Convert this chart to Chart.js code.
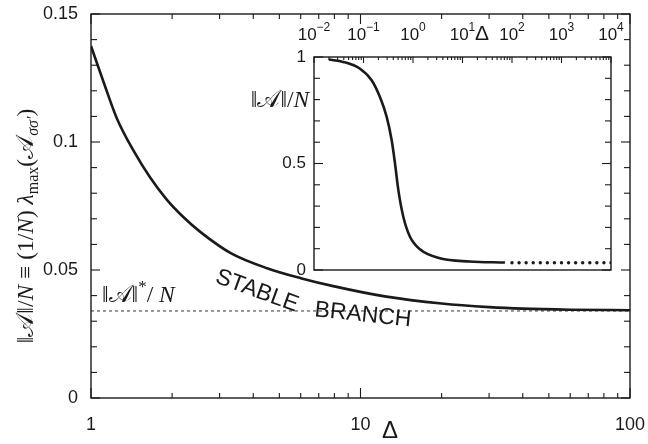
<!DOCTYPE html>
<html>
<head>
<meta charset="utf-8">
<script src="https://cdn.jsdelivr.net/npm/chart.js@4.4.1/dist/chart.umd.min.js"></script>
<style>
  body { margin: 0; background: #fff; }
  #wrap { position: relative; width: 648px; height: 444px; }
  #wrap canvas { position: absolute; left: 0; top: 0; }
</style>
</head>
<body>
<div id="wrap">
  <canvas id="main" width="648" height="444"></canvas>
  <canvas id="inset" width="648" height="444"></canvas>
</div>
<script>
// main panel - stable branch, Delta from 1 to 100
const deltaMain = [1, 1.13, 1.25, 1.44, 1.66, 1.91, 2.2, 2.55, 3.3, 4.5, 6, 8, 12.3, 20, 30, 40, 60, 100];
const normMain = [0.1375, 0.1215, 0.109, 0.0965, 0.086, 0.0775, 0.0707, 0.0648, 0.0566, 0.0507, 0.0468, 0.0436, 0.0397, 0.0369, 0.0355, 0.0349, 0.0345, 0.0343];
const normStar = 0.034;
const starRange = [1, 100];

// inset - whole range of Delta
const deltaInset = [0.02, 0.039, 0.085, 0.146, 0.215, 0.294, 0.371, 0.433, 0.506, 0.637, 0.869, 1.38, 3.5, 14, 72];
const normInset = [0.988, 0.977, 0.945, 0.891, 0.812, 0.719, 0.609, 0.5, 0.375, 0.25, 0.156, 0.097, 0.055, 0.04, 0.035];
const deltaTail = [100, 139, 193, 268, 373, 518, 720, 1000, 1390, 1930, 2680, 3730, 5180, 7200, 10000];
const normTail = [0.034, 0.034, 0.034, 0.034, 0.034, 0.034, 0.034, 0.034, 0.034, 0.034, 0.034, 0.034, 0.034, 0.034, 0.034];

// tick labels
const mainYTicks = [0, 0.05, 0.1, 0.15];
const mainYLabels = ['0', '0.05', '0.1', '0.15'];
const mainXTicks = [1, 10, 100];
const mainXLabels = ['1', '10', '100'];
const insetYTicks = [0, 0.5, 1];
const insetYLabels = ['0', '0.5', '1'];
const insetXTicks = [0.01, 0.1, 1, 10, 100, 1000, 10000];
const insetXExps = ['\u22122', '\u22121', '0', '1', '2', '3', '4'];

const SANS = '"Liberation Sans", Arial, sans-serif';
const SERIF = '"Liberation Serif", "DejaVu Serif", serif';
const INK = '#1a1a1a';

function pts(xs, ys) {
  return xs.map((x, i) => ({ x: x, y: ys[i] }));
}

function line(ctx, x1, y1, x2, y2) {
  ctx.beginPath();
  ctx.moveTo(x1, y1);
  ctx.lineTo(x2, y2);
  ctx.stroke();
}

// 1..9 times each decade between min and max
function logTicks(min, max) {
  let out = [];
  for (let e = Math.round(Math.log10(min)); e < Math.log10(max); e++) {
    for (let m = 1; m < 10; m++) {
      out.push({ v: m * Math.pow(10, e), major: m === 1 });
    }
  }
  out.push({ v: max, major: true });
  return out;
}

// text made of pieces with their own font and vertical shift
function drawRich(ctx, segs, x, y, align) {
  let w = 0;
  segs.forEach(s => { ctx.font = s[1]; w += ctx.measureText(s[0]).width; });
  let cx = align === 'center' ? x - w / 2 : x;
  segs.forEach(s => {
    ctx.font = s[1];
    ctx.fillText(s[0], cx, y + (s[2] || 0));
    cx += ctx.measureText(s[0]).width;
  });
}

const rm = '23.5px ' + SERIF;
const it = 'italic 23.5px ' + SERIF;
const sub = '16px ' + SERIF;
const subIt = 'italic 16px ' + SERIF;

const mainDecor = {
  id: 'mainDecor',
  beforeDraw(chart) {
    const ctx = chart.ctx;
    ctx.save();
    ctx.fillStyle = '#fff';
    ctx.fillRect(0, 0, chart.width, chart.height);
    ctx.restore();
  },
  afterDraw(chart) {
    const { ctx, chartArea: a, scales: { x, y } } = chart;
    ctx.save();
    ctx.strokeStyle = INK;
    ctx.fillStyle = INK;
    ctx.lineWidth = 1.4;
    ctx.strokeRect(a.left, a.top, a.right - a.left, a.bottom - a.top);

    ctx.lineWidth = 1.1;
    for (let i = 0; i <= 15; i++) {
      const py = y.getPixelForValue(i / 100);
      const len = i % 5 === 0 ? 9 : 6;
      line(ctx, a.left, py, a.left + len, py);
      line(ctx, a.right, py, a.right - len, py);
    }
    logTicks(1, 100).forEach(t => {
      const px = x.getPixelForValue(t.v);
      const len = t.major ? 10 : 5;
      line(ctx, px, a.bottom, px, a.bottom - len);
      line(ctx, px, a.top, px, a.top + len);
    });

    // tick labels
    ctx.font = '18px ' + SANS;
    ctx.textAlign = 'right';
    ctx.textBaseline = 'middle';
    mainYTicks.forEach((v, i) => ctx.fillText(mainYLabels[i], a.left - 13, y.getPixelForValue(v)));
    ctx.textAlign = 'center';
    mainXTicks.forEach((v, i) => ctx.fillText(mainXLabels[i], x.getPixelForValue(v), a.bottom + 27));

    ctx.font = '24px ' + SANS;
    ctx.fillText('\u0394', 390, 431);

    // y axis title
    ctx.textAlign = 'left';
    ctx.textBaseline = 'alphabetic';
    ctx.save();
    ctx.translate(25, 226);
    ctx.rotate(-Math.PI / 2);
    drawRich(ctx, [
      ['\u2016', rm], ['\uD835\uDC9C', rm], ['\u2016/', rm], ['N', it],
      [' \u2261 (1/', rm], ['N', it], [') ', rm], ['\u03BB', it],
      ['max', sub, 5], ['(', rm], ['\uD835\uDC9C', rm], ['\u03C3\u03C3\u2032', subIt, 5], [')', rm]
    ], 0, 8, 'center');
    ctx.restore();

    // threshold label
    drawRich(ctx, [['\u2016', rm], ['\uD835\uDC9C', rm], ['\u2016', rm], ['*', '17px ' + SERIF, -10], ['/', rm], [' N', it]], 102, 302, 'left');

    // branch label
    ctx.font = '23px ' + SANS;
    ctx.textAlign = 'center';
    ctx.textBaseline = 'middle';
    ctx.save();
    ctx.translate(257, 291);
    ctx.rotate(20 * Math.PI / 180);
    ctx.fillText('STABLE', 0, 0);
    ctx.restore();
    ctx.save();
    ctx.translate(363, 315);
    ctx.rotate(6 * Math.PI / 180);
    ctx.fillText('BRANCH', 0, 0);
    ctx.restore();
    ctx.restore();
  }
};

const insetDecor = {
  id: 'insetDecor',
  beforeDraw(chart) {
    const { ctx, chartArea: a } = chart;
    ctx.save();
    ctx.fillStyle = '#fff';
    ctx.fillRect(a.left, a.top, a.right - a.left, a.bottom - a.top);
    ctx.restore();
  },
  afterDraw(chart) {
    const { ctx, chartArea: a, scales: { x, y } } = chart;
    ctx.save();
    ctx.strokeStyle = INK;
    ctx.fillStyle = INK;
    ctx.lineWidth = 1.4;
    ctx.strokeRect(a.left, a.top, a.right - a.left, a.bottom - a.top);

    ctx.lineWidth = 1.1;
    for (let i = 0; i <= 10; i++) {
      const py = y.getPixelForValue(i / 10);
      const len = i % 5 === 0 ? 9 : 6;
      line(ctx, a.left, py, a.left + len, py);
      line(ctx, a.right, py, a.right - len, py);
    }
    logTicks(0.01, 10000).forEach(t => {
      const px = x.getPixelForValue(t.v);
      const len = t.major ? 6 : 3;
      line(ctx, px, a.top, px, a.top + len);
    });

    ctx.font = '17px ' + SANS;
    ctx.textAlign = 'right';
    ctx.textBaseline = 'middle';
    insetYTicks.forEach((v, i) => ctx.fillText(insetYLabels[i], a.left - 8, y.getPixelForValue(v)));

    ctx.textAlign = 'left';
    ctx.textBaseline = 'alphabetic';
    insetXTicks.forEach((v, i) => {
      drawRich(ctx, [['10', '17px ' + SANS], [insetXExps[i], '12px ' + SANS, -9]], x.getPixelForValue(v), 40, 'center');
    });
    ctx.font = '21px ' + SANS;
    ctx.fillText('\u0394', 475, 40);

    drawRich(ctx, [['\u2016', rm], ['\uD835\uDC9C', rm], ['\u2016/', rm], ['N', it]], 280, 107, 'center');
    ctx.restore();
  }
};

new Chart(document.getElementById('main'), {
  type: 'line',
  data: {
    datasets: [
      {
        data: pts(deltaMain, normMain),
        borderColor: INK,
        borderWidth: 2.6,
        pointRadius: 0,
        cubicInterpolationMode: 'monotone'
      },
      {
        data: pts(starRange, [normStar, normStar]),
        borderColor: '#333',
        borderWidth: 1,
        borderDash: [3, 3],
        pointRadius: 0
      }
    ]
  },
  options: {
    responsive: false,
    animation: false,
    layout: { padding: { left: 91, right: 18, top: 14, bottom: 46 } },
    plugins: { legend: { display: false }, tooltip: { enabled: false } },
    scales: {
      x: { type: 'logarithmic', min: 1, max: 100, display: false },
      y: { type: 'linear', min: 0, max: 0.15, display: false }
    }
  },
  plugins: [mainDecor]
});

new Chart(document.getElementById('inset'), {
  type: 'line',
  data: {
    datasets: [
      {
        data: pts(deltaInset, normInset),
        borderColor: INK,
        borderWidth: 2.6,
        pointRadius: 0,
        cubicInterpolationMode: 'monotone'
      },
      {
        data: pts(deltaTail, normTail),
        showLine: false,
        pointRadius: 1.7,
        pointBackgroundColor: INK,
        pointBorderWidth: 0
      }
    ]
  },
  options: {
    responsive: false,
    animation: false,
    layout: { padding: { left: 314, right: 37, top: 57, bottom: 174 } },
    plugins: { legend: { display: false }, tooltip: { enabled: false } },
    scales: {
      x: { type: 'logarithmic', min: 0.01, max: 10000, display: false },
      y: { type: 'linear', min: 0, max: 1, display: false }
    }
  },
  plugins: [insetDecor]
});
</script>
</body>
</html>
